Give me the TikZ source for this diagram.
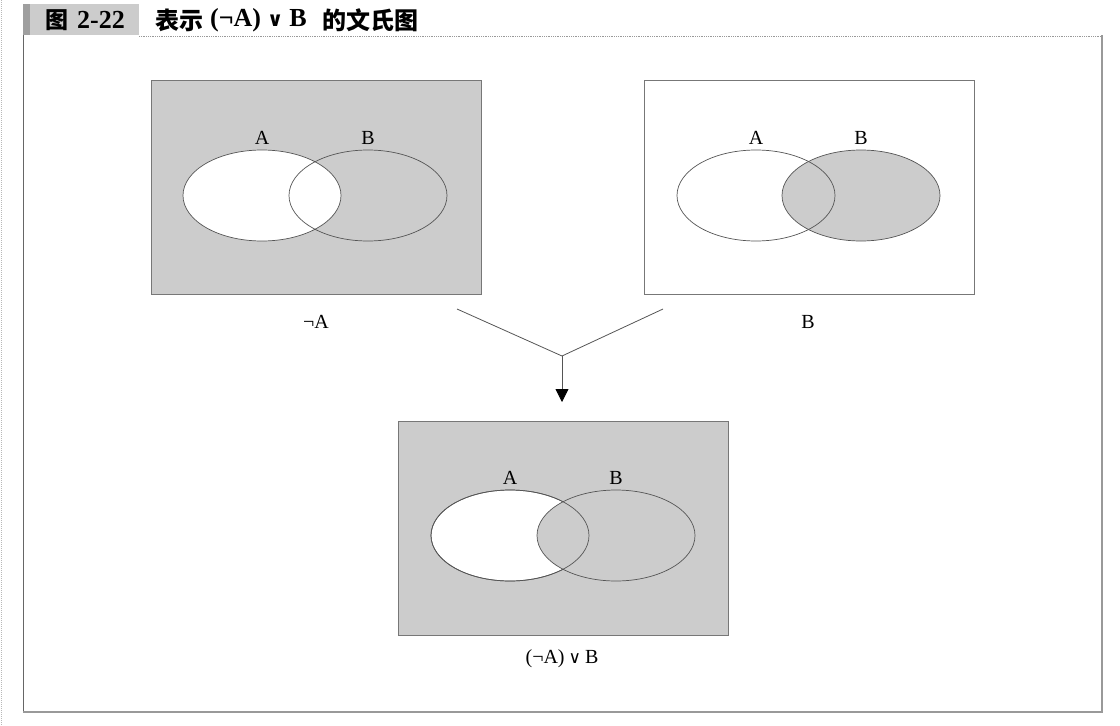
\documentclass[tikz,border=0pt]{standalone}
\usepackage{fontspec}
\setmainfont{Liberation Serif}
\newfontfamily\cjk{Noto Sans CJK SC}
\newfontfamily\dejavu{DejaVu Sans}
\usetikzlibrary{shapes.geometric,arrows.meta}
\definecolor{fillgray}{HTML}{CCCCCC}
\definecolor{linegray}{HTML}{555555}
\definecolor{framegray}{HTML}{999999}
\tikzset{
  panel/.style={draw=linegray!80, line width=0.8pt, minimum width=330pt, minimum height=214pt, inner sep=0pt},
  venn/.style={ellipse, draw=linegray, line width=0.7pt, minimum width=158pt, minimum height=91pt, inner sep=0pt},
  vlabel/.style={font=\fontsize{20}{20}\selectfont, inner sep=0pt},
  ttext/.style={inner sep=0pt},
  conn/.style={draw=linegray, line width=0.8pt},
}
\begin{document}
\begin{tikzpicture}[x=1pt,y=-1pt]
\useasboundingbox (0,0) rectangle (1120,726);
% page frame
\draw[framegray!70, line width=1pt, densely dotted] (1.5,0) -- (1.5,726);
\fill[fillgray] (23,4) rectangle (139,35);
\fill[gray!75] (23,4) rectangle (30,35);
\draw[framegray, line width=0.8pt, densely dotted] (139,36) -- (1102,36);
\draw[gray!80!black, line width=1pt] (23,35) -- (23,711);
\draw[framegray, line width=2pt] (1102,35) -- (1102,712) -- (23,712);
% title
\node[ttext, anchor=west] (tnum) at (45,20) {{\cjk\bfseries\fontsize{23}{23}\selectfont 图}\hspace{9pt}{\bfseries\fontsize{26}{26}\selectfont 2-22}};
\node[ttext, anchor=west] (ttlA) at (155,20) {\cjk\bfseries\fontsize{24}{24}\selectfont 表示};
\node[ttext, anchor=west] (ttlB) at (210,20) {\bfseries\fontsize{26}{26}\selectfont (¬A)\hspace{6pt}{\dejavu\bfseries\fontsize{20}{20}\selectfont ∨}\hspace{6pt}B};
\node[ttext, anchor=east] (ttlC) at (419,20) {\cjk\bfseries\fontsize{24}{24}\selectfont 的文氏图};
% left panel: not A
\node[panel, fill=fillgray] (pl) at (316,187) {};
\node[venn, fill=white] (plA) at (262,195.5) {};
\node[venn] (plB) at (368,195.5) {};
\node[vlabel] (plAl) at (262,138) {A};
\node[vlabel] (plBl) at (368,138) {B};
\node[vlabel] (plc) at (316,322) {¬A};
% right panel: B
\node[panel, fill=white] (pr) at (809,187) {};
\node[venn, fill=fillgray] (prB) at (861,195.5) {};
\node[venn] (prA) at (756,195.5) {};
\node[vlabel] (prAl) at (756,138) {A};
\node[vlabel] (prBl) at (861,138) {B};
\node[vlabel] (prc) at (808,322) {B};
% bottom panel
\node[panel, fill=fillgray] (pb) at (563.5,528) {};
\node[venn, fill=white] (pbA) at (510,535.5) {};
\node[venn, fill=fillgray] (pbB) at (616,535.5) {};
\node[venn] (pbA2) at (510,535.5) {};
\node[vlabel] (pbAl) at (510,478) {A};
\node[vlabel] (pbBl) at (616,478) {B};
\node[vlabel] (pbc) at (562,659) {(¬A)\hspace{4pt}{\dejavu\fontsize{17}{17}\selectfont ∨}\hspace{4pt}B};
% connectors
\coordinate (c1) at (457,309);
\coordinate (c2) at (663,309);
\coordinate (j) at (562,356);
\coordinate (t) at (562,402);
\draw[conn] (c1) -- (j) -- (c2);
\draw[conn, -{Triangle[width=13pt,length=13pt,fill=black,color=black]}] (j) -- (t);
\end{tikzpicture}
\end{document}
